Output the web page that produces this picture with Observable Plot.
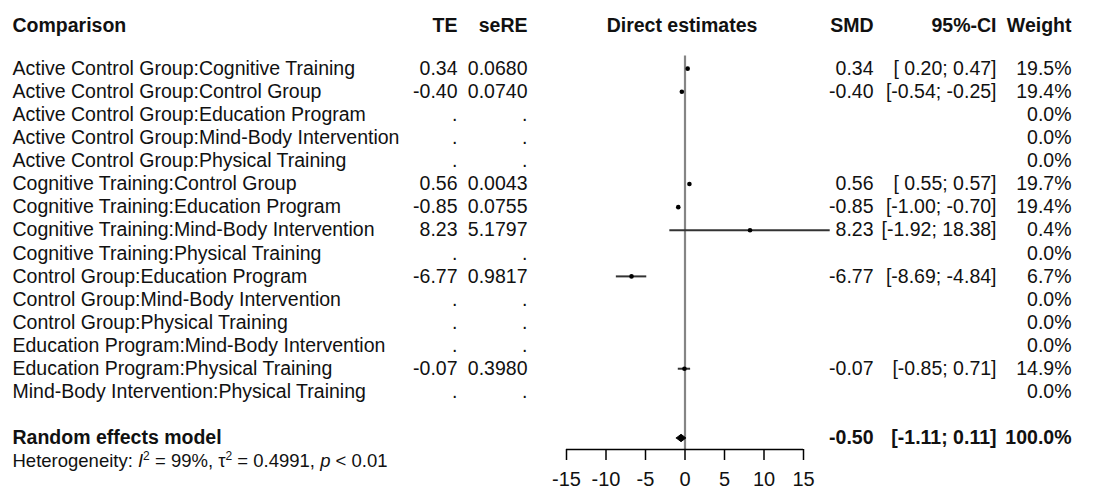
<!DOCTYPE html>
<html>
<head>
<meta charset="utf-8">
<script src="https://cdn.jsdelivr.net/npm/d3@7"></script>
<script src="https://cdn.jsdelivr.net/npm/@observablehq/plot@0.6"></script>
<style>
  html, body { margin: 0; padding: 0; background: #fff; }
  svg { display: block; }
</style>
</head>
<body>
<div id="chart"></div>
<script>
// ---- data ----
const comparisons = [
  "Active Control Group:Cognitive Training",
  "Active Control Group:Control Group",
  "Active Control Group:Education Program",
  "Active Control Group:Mind-Body Intervention",
  "Active Control Group:Physical Training",
  "Cognitive Training:Control Group",
  "Cognitive Training:Education Program",
  "Cognitive Training:Mind-Body Intervention",
  "Cognitive Training:Physical Training",
  "Control Group:Education Program",
  "Control Group:Mind-Body Intervention",
  "Control Group:Physical Training",
  "Education Program:Mind-Body Intervention",
  "Education Program:Physical Training",
  "Mind-Body Intervention:Physical Training"
];
const te     = [0.34, -0.40, null, null, null, 0.56, -0.85, 8.23, null, -6.77, null, null, null, -0.07, null];
const seRE   = [0.0680, 0.0740, null, null, null, 0.0043, 0.0755, 5.1797, null, 0.9817, null, null, null, 0.3980, null];
const lower  = [0.20, -0.54, null, null, null, 0.55, -1.00, -1.92, null, -8.69, null, null, null, -0.85, null];
const upper  = [0.47, -0.25, null, null, null, 0.57, -0.70, 18.38, null, -4.84, null, null, null, 0.71, null];
const weight = [19.5, 19.4, 0.0, 0.0, 0.0, 19.7, 19.4, 0.4, 0.0, 6.7, 0.0, 0.0, 0.0, 14.9, 0.0];

const randomLabel = "Random effects model";
const randomEst = -0.50, randomLower = -1.11, randomUpper = 0.11, randomWeight = 100.0;
const heterogeneity = {I2: "99%", tau2: "0.4991", p: "< 0.01"};

const headers = ["Comparison", "TE", "seRE", "Direct estimates", "SMD", "95%-CI", "Weight"];
const xTicks = [-15, -10, -5, 0, 5, 10, 15];

// ---- layout (row units on y) ----
const headerRow = -2, randomRow = comparisons.length + 1, hetRow = comparisons.length + 2;
const axisRow = 16.5;
const col = {label: 12, te: 457, se: 527, smd: 873, ci: 996, w: 1071};

const fmt2 = v => v.toFixed(2);
const pad = s => (s.startsWith("-") ? s : " " + s);
const ciText = (lo, hi) => "[" + pad(fmt2(lo)) + "; " + fmt2(hi) + "]";

const rows = comparisons.map((c, i) => ({
  i, label: c,
  te: te[i], se: seRE[i], lo: lower[i], hi: upper[i], w: weight[i],
  teText: te[i] == null ? "." : fmt2(te[i]),
  seText: seRE[i] == null ? "." : seRE[i].toFixed(4),
  smdText: te[i] == null ? "" : fmt2(te[i]),
  ciText: lower[i] == null ? "" : ciText(lower[i], upper[i]),
  wText: weight[i].toFixed(1) + "%"
}));
const est = rows.filter(d => d.te != null);
const random = [{
  i: randomRow, label: randomLabel,
  smdText: fmt2(randomEst), ciText: ciText(randomLower, randomUpper), wText: randomWeight.toFixed(1) + "%"
}];
const diamondH = 0.16;
const diamond = [
  {x: randomLower, y: randomRow},
  {x: randomEst, y: randomRow - diamondH},
  {x: randomUpper, y: randomRow},
  {x: randomEst, y: randomRow + diamondH},
  {x: randomLower, y: randomRow}
];
const head = [{y: headerRow}];

const font = "Liberation Sans, Arial, Helvetica, sans-serif";
const fs = 19.5;

const textCol = (data, key, dx, anchor, extra = {}) =>
  Plot.text(data, {y: "i", text: key, frameAnchor: "left", dx, textAnchor: anchor, fontSize: fs, fill: "#111", ...extra});
const headCol = (k, dx, anchor) =>
  Plot.text(head, {y: "y", text: () => headers[k], frameAnchor: "left", dx, dy: 3, textAnchor: anchor, fontWeight: "bold", fontSize: fs, fill: "#111"});

const chart = Plot.plot({
  width: 1101,
  height: 496,
  marginTop: 22,
  marginBottom: 47,
  marginLeft: 0,
  marginRight: 0,
  x: {domain: [-15, 15], range: [566, 803]},
  y: {domain: [headerRow, axisRow], reverse: true, axis: null},
  style: {fontFamily: font, fontSize: fs + "px", color: "#000", background: "#fff"},
  marks: [
    // headers
    headCol(0, col.label, "start"),
    headCol(1, col.te, "end"),
    headCol(2, col.se, "end"),
    Plot.text(head, {y: "y", x: () => 0, text: () => headers[3], dy: 3, dx: -3, textAnchor: "middle", fontWeight: "bold", fontSize: fs, fill: "#111"}),
    headCol(4, col.smd, "end"),
    headCol(5, col.ci, "end"),
    headCol(6, col.w, "end"),

    // study rows
    textCol(rows, "label", col.label, "start"),
    textCol(rows, "teText", col.te, "end"),
    textCol(rows, "seText", col.se, "end"),
    textCol(rows, "smdText", col.smd, "end"),
    textCol(rows, "ciText", col.ci, "end", {style: "white-space: pre"}),
    textCol(rows, "wText", col.w, "end"),

    // random effects row
    textCol(random, "label", col.label, "start", {fontWeight: "bold"}),
    textCol(random, "smdText", col.smd, "end", {fontWeight: "bold"}),
    textCol(random, "ciText", col.ci, "end", {fontWeight: "bold"}),
    textCol(random, "wText", col.w, "end", {fontWeight: "bold"}),

    // heterogeneity (rich text filled in after render)
    Plot.text([{i: hetRow}], {y: "i", text: () => "Heterogeneity", frameAnchor: "left", dx: col.label, textAnchor: "start", fontSize: 18.5, fill: "#111", className: "het"}),

    // forest
    Plot.ruleX([0], {y1: -0.55, y2: axisRow, stroke: "#858585", strokeWidth: 2.2}),
    Plot.ruleY(est, {y: "i", x1: "lo", x2: "hi", stroke: "#333", strokeWidth: 2}),
    Plot.dot(est, {x: "te", y: "i", r: 2.3, fill: "#000", stroke: "none"}),
    Plot.line(diamond, {x: "x", y: "y", fill: "#000", stroke: "#000", strokeWidth: 1}),

    // x axis
    Plot.ruleY([axisRow], {x1: xTicks[0], x2: xTicks[xTicks.length - 1], stroke: "#000", strokeWidth: 1.5}),
    Plot.axisX(xTicks, {anchor: "bottom", tickSize: 11, tickPadding: 11, tickFormat: d => String(d), fontSize: 20, fill: "#111", stroke: "#000", strokeWidth: 1.5, label: null})
  ]
});

document.getElementById("chart").appendChild(chart);

// rich heterogeneity text: italic I and p, superscript 2
const het = chart.querySelector("g.het text");
if (het) {
  const NS = "http://www.w3.org/2000/svg";
  het.textContent = "";
  const parts = [
    ["Heterogeneity: ", {}],
    ["I", {"font-style": "italic"}],
    ["2", {"font-size": 12, dy: -7}],
    [" = " + heterogeneity.I2 + ", \u03c4", {dy: 7}],
    ["2", {"font-size": 12, dy: -7}],
    [" = " + heterogeneity.tau2 + ", ", {dy: 7}],
    ["p", {"font-style": "italic"}],
    [" " + heterogeneity.p, {}]
  ];
  for (const [t, attrs] of parts) {
    const ts = document.createElementNS(NS, "tspan");
    ts.textContent = t;
    for (const k in attrs) ts.setAttribute(k, attrs[k]);
    het.appendChild(ts);
  }
}
</script>
</body>
</html>
